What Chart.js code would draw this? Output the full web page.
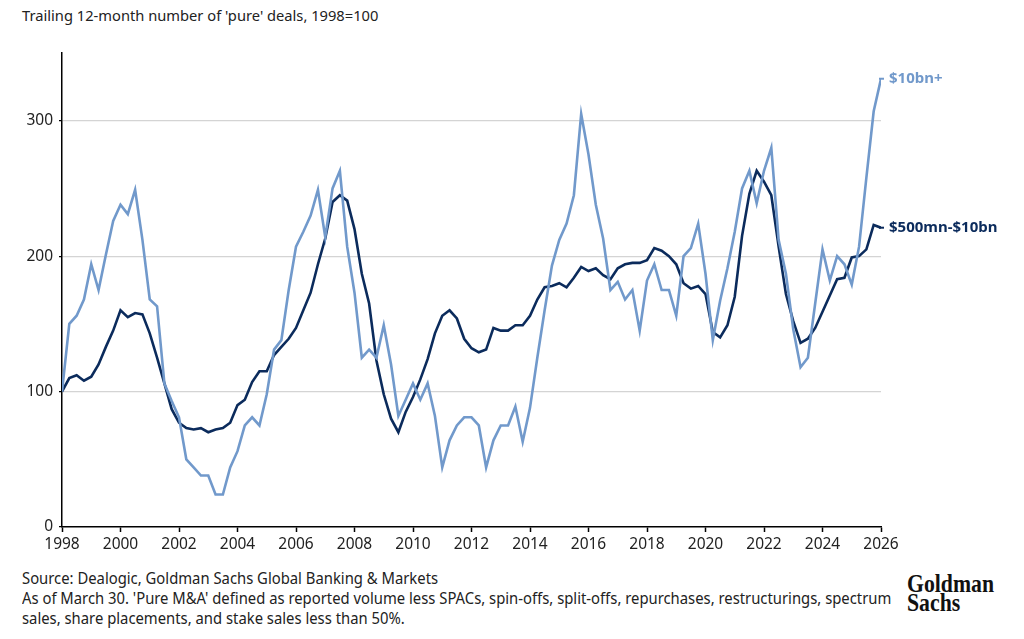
<!DOCTYPE html>
<html>
<head>
<meta charset="utf-8">
<script src="https://cdn.jsdelivr.net/npm/chart.js@4.4.1/dist/chart.umd.min.js"></script>
<style>
  html, body { margin: 0; padding: 0; background: #fff; }
  body { width: 1024px; height: 639px; position: relative; overflow: hidden; font-family: 'Noto Sans', sans-serif; }
  #title { position: absolute; left: 22px; top: 5px; font-size: 14.7px; color: #222; white-space: nowrap; }
  #wrap { position: absolute; left: 0; top: 0; width: 1024px; height: 560px; }
  #notes { position: absolute; left: 22px; top: 569px; font-size: 15.4px; line-height: 20px; color: #222; white-space: nowrap; transform: scaleX(0.963); transform-origin: left top; }
  #logo { position: absolute; left: 907px; top: 574px; font-family: 'Liberation Serif', serif; font-weight: bold; font-size: 25px; line-height: 19px; color: #111; transform: scaleX(0.87); transform-origin: left top; }
</style>
</head>
<body>
<div id="title">Trailing 12-month number of 'pure' deals, 1998=100</div>
<div id="wrap"><canvas id="chart" width="1024" height="560"></canvas></div>
<div id="notes">
  Source: Dealogic, Goldman Sachs Global Banking &amp; Markets<br>
  As of March 30. 'Pure M&amp;A' defined as reported volume less SPACs, spin-offs, split-offs, repurchases, restructurings, spectrum<br>
  sales, share placements, and stake sales less than 50%.
</div>
<div id="logo">Goldman<br>Sachs</div>
<script>
// quarterly series, 1998 Q1 .. 2026 Q1 (1998=100)
const startYear = 1998;

const bigDeals = [
  100, 150, 156, 168,   // 1998
  194, 175, 201, 226,   // 1999
  238, 231, 249, 212,   // 2000
  168, 163, 106, 93,    // 2001
  81, 50, 44, 38,       // 2002
  38, 24, 24, 44,       // 2003
  56, 75, 81, 75,       // 2004
  98, 131, 138, 175,    // 2005
  207, 218, 230, 249,   // 2006
  214, 250, 263, 207,   // 2007
  173, 125, 131, 125,   // 2008
  149, 120, 82, 94,     // 2009
  106, 94, 106, 82,     // 2010
  44, 64, 75, 81,       // 2011
  81, 75, 44, 64,       // 2012
  75, 75, 89, 63,       // 2013
  88, 125, 160, 193,    // 2014
  212, 224, 245, 305,   // 2015
  275, 238, 213, 175,   // 2016
  181, 168, 175, 145,   // 2017
  182, 194, 175, 175,   // 2018
  156, 200, 206, 224,   // 2019
  187, 138, 167, 191,   // 2020
  218, 250, 263, 239,   // 2021
  263, 280, 212, 187,   // 2022
  146, 118, 125, 165,   // 2023
  205, 182, 200, 194,   // 2024
  179, 207, 258, 307,   // 2025
  331                   // 2026
];

const midDeals = [
  100, 110, 112, 108,
  111, 120, 133, 145,
  160, 155, 158, 157,
  143, 125, 106, 87,
  77, 73, 72, 73,
  70, 72, 73, 77,
  90, 94, 107, 115,
  115, 127, 133, 139,
  147, 160, 173, 194,
  213, 240, 245, 241,
  220, 187, 165, 123,
  98, 80, 70, 85,
  96, 109, 124, 143,
  156, 160, 154, 139,
  132, 129, 131, 147,
  145, 145, 149, 149,
  156, 168, 177, 178,
  180, 177, 184, 192,
  189, 191, 186, 183,
  191, 194, 195, 195,
  197, 206, 204, 200,
  194, 180, 176, 178,
  172, 144, 140, 149,
  170, 215, 246, 263,
  255, 245, 207, 172,
  152, 136, 139, 147,
  159, 171, 183, 184,
  199, 200, 205, 223,
  221
];

const seriesNames = ['$10bn+', '$500mn-$10bn'];
const xTicks = [1998, 2000, 2002, 2004, 2006, 2008, 2010, 2012, 2014, 2016, 2018, 2020, 2022, 2024, 2026];
const yTicks = [0, 100, 200, 300];

const LIGHT = '#7199cb';
const DARK = '#0b2b5c';

const toPoints = arr => arr.map((v, i) => ({ x: startYear + i / 4, y: v }));

// end-of-line labels
const endLabels = {
  id: 'endLabels',
  afterDatasetsDraw(chart) {
    const ctx = chart.ctx;
    chart.data.datasets.forEach((ds, i) => {
      const meta = chart.getDatasetMeta(i);
      const last = meta.data[meta.data.length - 1];
      if (!last) return;
      ctx.save();
      ctx.strokeStyle = ds.borderColor;
      ctx.lineWidth = 2;
      ctx.beginPath();
      ctx.moveTo(last.x - 2, last.y);
      ctx.lineTo(last.x + 3, last.y);
      ctx.stroke();
      ctx.fillStyle = ds.borderColor;
      ctx.font = 'bold 15px "Noto Sans"';
      ctx.textBaseline = 'middle';
      ctx.fillText(ds.label, last.x + 8, last.y);
      ctx.restore();
    });
  }
};

new Chart(document.getElementById('chart'), {
  type: 'line',
  data: {
    datasets: [
      {
        label: seriesNames[0],
        data: toPoints(bigDeals),
        borderColor: LIGHT,
        borderWidth: 2.6,
        pointRadius: 0,
        tension: 0,
        fill: false,
      },
      {
        label: seriesNames[1],
        data: toPoints(midDeals),
        borderColor: DARK,
        borderWidth: 2.6,
        pointRadius: 0,
        tension: 0,
        fill: false,
      },
    ],
  },
  options: {
    responsive: false,
    animation: false,
    layout: { padding: { top: 53, right: 143, left: 0, bottom: 0 } },
    plugins: {
      legend: { display: false },
      tooltip: { enabled: false },
    },
    scales: {
      x: {
        type: 'linear',
        min: 1998,
        max: 2026,
        afterBuildTicks: s => { s.ticks = xTicks.map(v => ({ value: v })); },
        afterFit: s => { s.height = 33; },
        border: { color: '#000', width: 1.5 },
        grid: { drawOnChartArea: false, drawTicks: true, tickLength: 5, tickColor: '#000', tickWidth: 1.5 },
        ticks: {
          color: '#222',
          padding: 3,
          maxRotation: 0,
          font: { family: 'Noto Sans', size: 15.5 },
          callback: v => String(v),
        },
      },
      y: {
        min: 0,
        max: 350,
        afterBuildTicks: s => { s.ticks = yTicks.map(v => ({ value: v })); },
        afterFit: s => { s.width = 62; },
        border: { color: '#000', width: 1.5 },
        grid: {
          color: ctx => ctx.tick && ctx.tick.value === 0 ? 'rgba(0,0,0,0)' : '#d4d4d4',
          lineWidth: 1.2,
          drawTicks: true,
          tickLength: 3,
          tickColor: '#000',
        },
        ticks: {
          color: '#222',
          padding: 6,
          font: { family: 'Noto Sans', size: 15.5 },
        },
      },
    },
  },
  plugins: [endLabels],
});
</script>
</body>
</html>
